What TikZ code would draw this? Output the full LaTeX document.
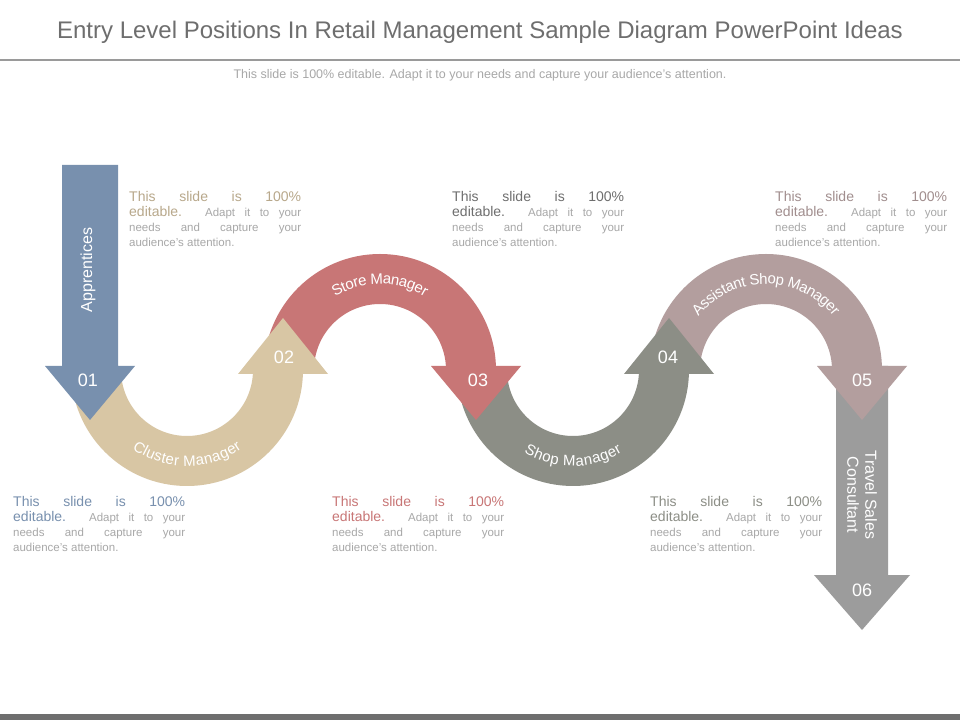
\documentclass[tikz,border=0pt]{standalone}
\usepackage{fontspec}
\setmainfont{Liberation Sans}
\usetikzlibrary{decorations.text}
\definecolor{cblue}{HTML}{7890AE}
\definecolor{ctan}{HTML}{D8C6A4}
\definecolor{cred}{HTML}{C87676}
\definecolor{cgray}{HTML}{8C8E86}
\definecolor{cmauve}{HTML}{B39E9E}
\definecolor{cgray2}{HTML}{9C9C9C}
\definecolor{ttl}{HTML}{6E6E6E}
\definecolor{txt}{HTML}{A8A8A8}
\tikzset{
 lbl/.style={text=white,font=\fontsize{18}{18}\selectfont},
 para/.style={text width=172pt,align=justify,anchor=north west,inner sep=0pt,text=txt,font=\fontsize{11.5}{15}\selectfont},
}
\newcommand{\ptxt}[1]{{\color{#1}\fontsize{14}{17}\selectfont This slide is 100\%\linebreak editable.} Adapt it to your\linebreak needs and capture your\linebreak audience's attention.}
\newcommand{\band}[3]{\fill[#3] (#1-116,350) arc[start angle=180,end angle=#2,radius=116] -- (#1+66,350) arc[start angle=#2,end angle=180,radius=66] -- cycle;}
\begin{document}
\begin{tikzpicture}[x=1pt,y=1pt]
\useasboundingbox (0,0) rectangle (960,720);
\fill[white] (0,0) rectangle (960,720);
% title
\node[text=ttl,font=\fontsize{24}{24}\selectfont] (title) at (480,688) {Entry Level Positions In Retail Management Sample Diagram PowerPoint Ideas};
\draw[ttl!70,line width=2pt] (0,660) -- (960,660);
\node[text=txt,font=\fontsize{12.5}{14}\selectfont] (sub) at (480,645) {This slide is 100\% editable. Adapt it to your needs and capture your audience's attention.};
\fill[ttl] (0,0) rectangle (960,6);
% final gray arrow
\fill[cgray2] (836,354) -- (888,354) -- (888,145) -- (910,145) -- (862,90) -- (814,145) -- (836,145) -- cycle;
% bands
\band{187}{360}{ctan}
\band{380}{0}{cred}
\band{573}{360}{cgray}
\band{766}{0}{cmauve}
% heads
\fill[ctan] (238,346) -- (328,346) -- (283,402) -- cycle;
\fill[cred] (431,354) -- (521,354) -- (476,300) -- cycle;
\fill[cgray] (624,346) -- (714,346) -- (669,402) -- cycle;
\fill[cmauve] (817,354) -- (907,354) -- (862,300) -- cycle;
% blue arrow
\fill[cblue] (62,555) -- (118,555) -- (118,354) -- (135,354) -- (90,300) -- (45,354) -- (62,354) -- cycle;
% arc labels
\path[decorate,decoration={text along path,text align=center,raise=-5pt,text={|\fontsize{15}{15}\selectfont\color{white}|Cluster Manager}}] (96,350) arc[start angle=180,end angle=360,radius=91];
\path[decorate,decoration={text along path,text align=center,raise=-5pt,text={|\fontsize{15}{15}\selectfont\color{white}|Store Manager}}] (289,350) arc[start angle=180,end angle=0,radius=91];
\path[decorate,decoration={text along path,text align=center,raise=-5pt,text={|\fontsize{15}{15}\selectfont\color{white}|Shop Manager}}] (482,350) arc[start angle=180,end angle=360,radius=91];
\path[decorate,decoration={text along path,text align=center,raise=-5pt,text={|\fontsize{15}{15}\selectfont\color{white}|Assistant Shop Manager}}] (675,350) arc[start angle=180,end angle=0,radius=91];
\node[text=white,rotate=90,font=\fontsize{16}{16}\selectfont] (appr) at (88,450) {Apprentices};
\node[text=white,rotate=-90,align=center,font=\fontsize{16}{18}\selectfont] (tsc) at (862,225) {Travel Sales\\Consultant};
\node[lbl] (n1) at (88,340) {01};
\node[lbl] (n2) at (284,363) {02};
\node[lbl] (n3) at (478,340) {03};
\node[lbl] (n4) at (668,363) {04};
\node[lbl] (n5) at (862,340) {05};
\node[lbl] (n6) at (862,130) {06};
% paragraphs
\node[para] (p1) at (129,529) {\ptxt{ctan!85!black}};
\node[para] (p2) at (452,529) {\ptxt{ttl}};
\node[para] (p3) at (775,529) {\ptxt{cmauve!90!black}};
\node[para] (p4) at (13,224) {\ptxt{cblue}};
\node[para] (p5) at (332,224) {\ptxt{cred}};
\node[para] (p6) at (650,224) {\ptxt{cgray}};
\end{tikzpicture}
\end{document}
